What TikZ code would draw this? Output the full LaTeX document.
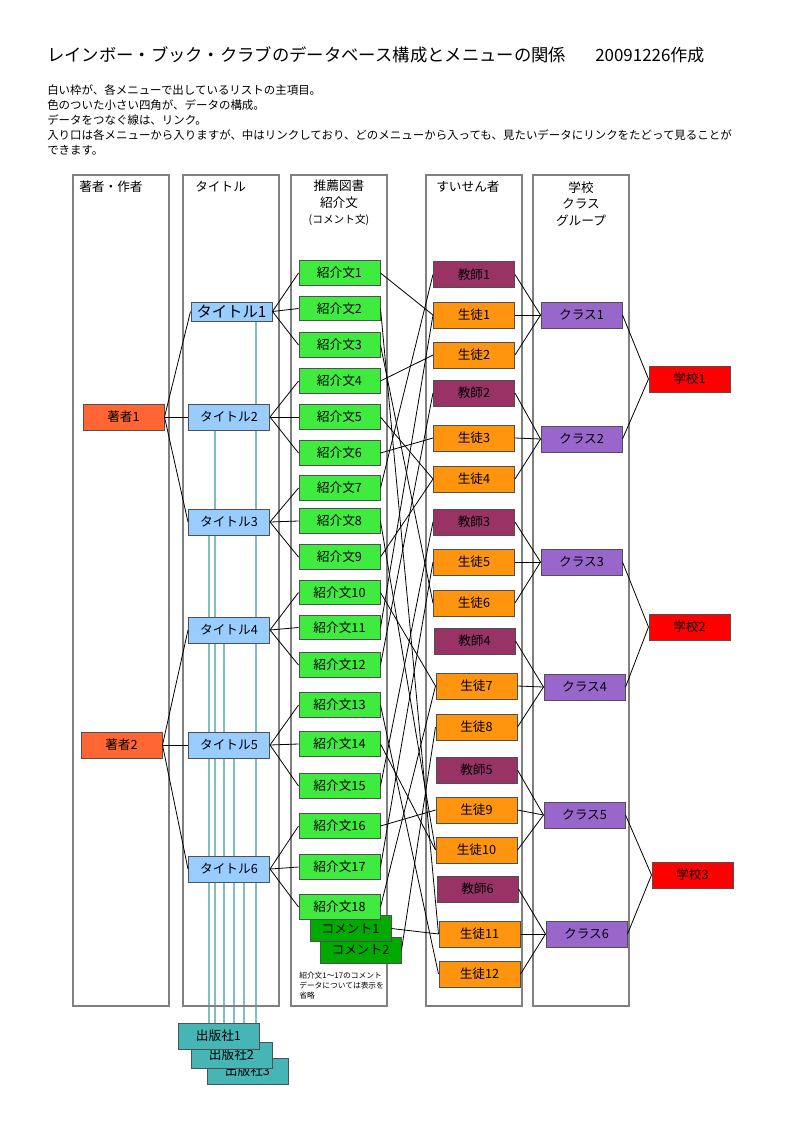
\documentclass[tikz,border=0pt]{standalone}
\usepackage{fontspec}
\setmainfont{Noto Sans CJK JP}
\usetikzlibrary{backgrounds}
\definecolor{framegray}{HTML}{808080}
\definecolor{boxline}{HTML}{505050}
\definecolor{authorfill}{HTML}{FF6633}
\definecolor{titlefill}{HTML}{99CCFF}
\definecolor{introfill}{HTML}{3EEB3E}
\definecolor{commentfill}{HTML}{00AA00}
\definecolor{teacherfill}{HTML}{993366}
\definecolor{studentfill}{HTML}{FF950E}
\definecolor{classfill}{HTML}{9966CC}
\definecolor{schoolfill}{HTML}{FF0000}
\definecolor{pubfill}{HTML}{45B5B5}
\definecolor{publine}{HTML}{7FBFBF}

\begin{document}
\begin{tikzpicture}[x=0.75pt,y=-0.75pt,
  frame/.style={draw=framegray, line width=1.1pt},
  head/.style={align=center, inner sep=0pt, font=\fontsize{9.5}{12.4}\selectfont},
  box/.style={draw=boxline, line width=0.75pt, minimum width=60.75pt,
    minimum height=19.5pt, inner sep=0pt, font=\fontsize{9.5}{11}\selectfont},
  author/.style={box, fill=authorfill},
  titlebox/.style={box, fill=titlefill},
  intro/.style={box, fill=introfill, minimum height=18.5pt},
  comment/.style={box, fill=commentfill},
  teacher/.style={box, fill=teacherfill},
  student/.style={box, fill=studentfill},
  classbox/.style={box, fill=classfill},
  school/.style={box, fill=schoolfill},
  pub/.style={box, fill=pubfill},
  link/.style={draw, line width=0.6pt},
  publink/.style={draw=publine, line width=1pt}]
\useasboundingbox (0,0) rectangle (800,1131);

% heading and notes
\node[anchor=west, inner sep=0pt, font=\fontsize{13}{15}\selectfont] (title) at (47,55)
  {レインボー・ブック・クラブのデータベース構成とメニューの関係};
\node[anchor=west, inner sep=0pt, font=\fontsize{12.7}{15}\selectfont] (date) at (595,55) {20091226作成};
\node[anchor=north west, align=left, inner sep=0pt, font=\fontsize{8.6}{11.1}\selectfont] (notes) at (47,85)
  {白い枠が、各メニューで出しているリストの主項目。\\
   色のついた小さい四角が、データの構成。\\
   データをつなぐ線は、リンク。\\
   入り口は各メニューから入りますが、中はリンクしており、どのメニューから入っても、見たいデータにリンクをたどって見ることが\\
   できます。};

% menu frames
\draw[frame] (73,175) rectangle (169,1006);
\draw[frame] (183,175) rectangle (279,1006);
\draw[frame] (291,175) rectangle (387,1006);
\draw[frame] (426,175) rectangle (522,1006);
\draw[frame] (533,175) rectangle (629,1006);
\node[head, anchor=west] (hauthor) at (79,187) {著者・作者};
\node[head, anchor=west] (htitle) at (195,187) {タイトル};
\node[head] (hintro) at (339,203) {推薦図書\\紹介文\\{\fontsize{8}{10}\selectfont (コメント文)}};
\node[head, anchor=west] (hrec) at (436,187) {すいせん者};
\node[head] (hschool) at (581,204) {学校\\クラス\\グループ};

% authors and titles
\node[author] (a1) at (123.5,417) {著者1};
\node[author] (a2) at (121.5,745) {著者2};
\node[titlebox, minimum height=14.25pt, font=\fontsize{11.5}{13}\selectfont] (t1) at (231.5,311.5) {タイトル1};
\foreach \n/\y in {2/417,3/522,4/630,5/745,6/869}
  \node[titlebox] (t\n) at (229,\y) {タイトル\n};

% publishers
\node[pub] (p3) at (247.5,1071) {出版社3};
\node[pub] (p2) at (231.5,1055) {出版社2};
\node[pub] (p1) at (218.5,1036) {出版社1};

% introductions and comments
\node[comment] (c2) at (360.5,950) {コメント2};
\node[comment] (c1) at (350.5,928.5) {コメント1};
\foreach \n/\y in {1/273,2/308.5,3/345,4/381,5/417,6/453,7/488,8/521,9/557,
    10/592.5,11/627.5,12/665,13/705,14/744,15/786,16/826,17/867,18/907}
  \node[intro] (i\n) at (339.5,\y) {紹介文\n};
\node[anchor=north west, align=left, inner sep=0pt, font=\fontsize{5.8}{7.5}\selectfont] (memo) at (299,972)
  {紹介文1～17のコメント\\データについては表示を\\省略};

% recommenders
\foreach \id/\txt/\st/\x/\y in {k1/教師1/teacher/474/274.5, s1/生徒1/student/474/315,
    s2/生徒2/student/474/355, k2/教師2/teacher/474/393, s3/生徒3/student/474/438,
    s4/生徒4/student/474/479, k3/教師3/teacher/474/522, s5/生徒5/student/474/562,
    s6/生徒6/student/474/603, k4/教師4/teacher/474.5/641, s7/生徒7/student/476.5/686,
    s8/生徒8/student/476.5/727, k5/教師5/teacher/476.5/770, s9/生徒9/student/476.5/810,
    s10/生徒10/student/476.5/850, k6/教師6/teacher/477.5/889, s11/生徒11/student/479.5/934,
    s12/生徒12/student/479.5/974}
  \node[\st] (\id) at (\x,\y) {\txt};

% classes and schools
\foreach \n/\x/\y in {1/581.5/315,2/581.5/439,3/581.5/562,4/584.5/687,5/584.5/815,6/586.5/934}
  \node[classbox] (g\n) at (\x,\y) {クラス\n};
\node[school] (h1) at (689.5,379) {学校1};
\node[school] (h2) at (689.5,627) {学校2};
\node[school] (h3) at (692.5,875) {学校3};

% publisher lines behind the title boxes
\begin{pgfonlayer}{background}
\foreach \n/\x in {1/256,2/215,3/209,4/224,5/234,6/244}
  \draw[publink] (t\n.south -| \x,0) -- (p1.north -| \x,0);
\end{pgfonlayer}

% links
\foreach \n in {1,2,3} \draw[link] (a1.east) -- (t\n.west);
\foreach \n in {4,5,6} \draw[link] (a2.east) -- (t\n.west);
\foreach \t/\i in {1/1,1/2,1/3,2/4,2/5,2/6,3/7,3/8,3/9,4/10,4/11,4/12,
    5/13,5/14,5/15,6/16,6/17,6/18}
  \draw[link] (t\t.east) -- (i\i.west);
\foreach \i/\r in {1/s1,2/s11,3/s6,4/s2,5/s4,6/s3,7/k1,8/s10,9/s4,10/s7,
    11/s1,12/k2,13/s12,14/s10,15/k3,16/s9,17/s5,18/s7}
  \draw[link] (i\i.east) -- (\r.west);
\draw[link] (c1.east) -- (s11.west);
\draw[link] (c2.east) -- (s8.west);
\foreach \r/\g in {k1/1,s1/1,s2/1,k2/2,s3/2,s4/2,k3/3,s5/3,s6/3,
    k4/4,s7/4,s8/4,k5/5,s9/5,s10/5,k6/6,s11/6,s12/6}
  \draw[link] (\r.east) -- (g\g.west);
\foreach \g/\h in {1/1,2/1,3/2,4/2,5/3,6/3}
  \draw[link] (g\g.east) -- (h\h.west);
\end{tikzpicture}
\end{document}
